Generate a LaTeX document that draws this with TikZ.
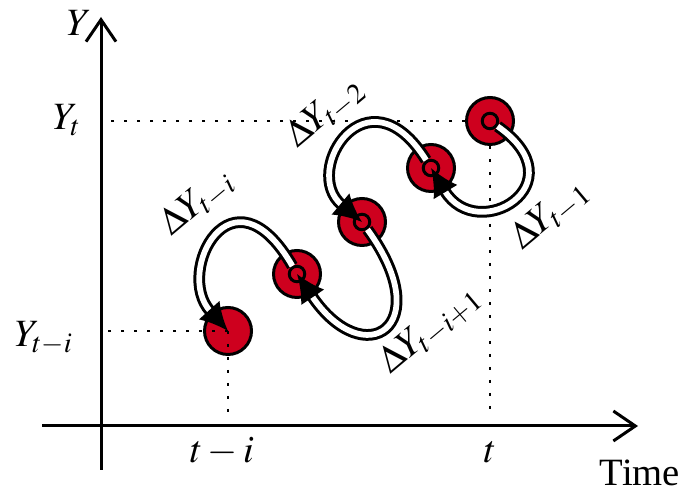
\documentclass[tikz,border=0pt]{standalone}
\usepackage{mathptmx}
\usepackage[no-math]{fontspec}
\setmainfont{Liberation Serif}
\usetikzlibrary{arrows.meta}
\definecolor{pointRed}{RGB}{206,0,30}

\begin{document}
\begin{tikzpicture}[
  x=0.02cm, y=0.02cm,
  axis/.style={-{Straight Barb[length=0.44cm, width=0.6cm]}, line width=0.06cm},
  guide/.style={line width=0.055cm, dash pattern=on 0.055cm off 0.205cm},
  obs/.style={circle, draw, line width=0.06cm, fill=pointRed, minimum size=0.94cm, inner sep=0pt},
  hub/.style={circle, draw, line width=0.06cm, minimum size=0.31cm, inner sep=0pt},
  link/.style={double=white, double distance=0.115cm, line width=0.06cm,
    -{Latex[length=0.56cm, width=0.56cm]}},
  lbl/.style={font=\fontsize{22}{26}\selectfont, inner sep=0pt},
  delta/.style={lbl, rotate=40}
]
  \useasboundingbox (0,0) rectangle (683,493);

  % Axes
  \coordinate (origin) at (101,67);
  \coordinate (yaxis) at (104,0);
  \coordinate (xaxis) at (0,78);
  \draw[axis] (101,23) -- (101,476) coordinate (ytip);
  \draw[axis] (42,67) -- (638,67) coordinate (xtip);
  \node[lbl] (ylab) at (79,470) {$Y$};
  \node[lbl, anchor=base] (tlab) at (640,7) {Time};

  % Observations
  \node[obs] (obs1) at (228,162) {};
  \node[obs] (obs2) at (297,219) {};
  \node[obs] (obs3) at (362,271) {};
  \node[obs] (obs4) at (431,325) {};
  \node[obs] (obs5) at (490,372) {};

  \draw[guide] (obs1.center) -- (obs1.center -| yaxis);
  \draw[guide] (obs1.center) -- (obs1.center |- xaxis);
  \draw[guide] (obs5) -- (obs5 -| yaxis);
  \draw[guide] (obs5) -- (obs5 |- xaxis);

  \node[hub] (hub2) at (obs2) {};
  \node[hub] (hub3) at (obs3) {};
  \node[hub] (hub4) at (obs4) {};
  \node[hub] (hub5) at (obs5) {};

  % Differences, each one stepping back in time
  \draw[link] (hub2) .. controls +(120:130) and +(132:80) .. (obs1.center);
  \draw[link] (hub3) .. controls +(-54:130) and +(-56:120) .. (obs2.center);
  \draw[link] (hub4) .. controls +(122:120) and +(140:80) .. (obs3.center);
  \draw[link] (hub5) .. controls +(-35:110) and +(-59:90) .. (obs4.center);

  \node[delta] (d1) at (197,290) {$\Delta Y_{t-i}$};
  \node[delta] (d2) at (430,163) {$\Delta Y_{t-i+1}$};
  \node[delta] (d3) at (325,380) {$\Delta Y_{t-2}$};
  \node[delta] (d4) at (550,278) {$\Delta Y_{t-1}$};

  % Tick labels
  \node[lbl, anchor=base east] (yt) at (81,363) {$Y_t$};
  \node[lbl, anchor=base east] (yti) at (73,146) {$Y_{t-i}$};
  \node[lbl, anchor=base] (xti) at (222,30) {$t-i$};
  \node[lbl, anchor=base] (xt) at (490,30) {$t$};
\end{tikzpicture}
\end{document}
